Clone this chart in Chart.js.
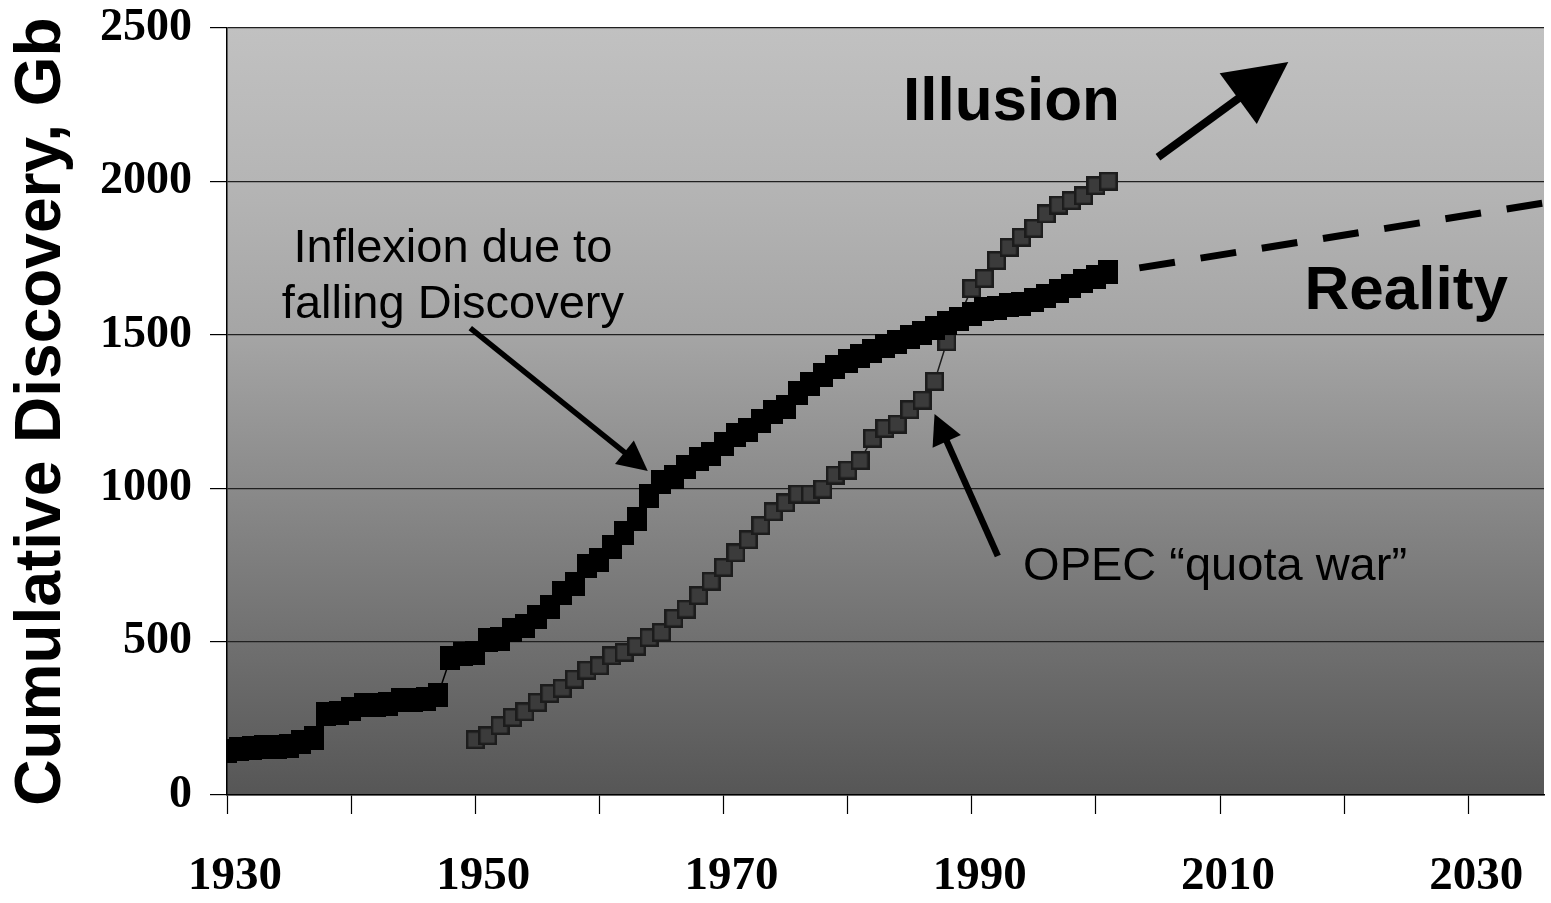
<!DOCTYPE html>
<html>
<head>
<meta charset="utf-8">
<title>Cumulative Discovery</title>
<script src="https://cdn.jsdelivr.net/npm/chart.js@4.4.1/dist/chart.umd.min.js"></script>
<style>
  html, body { margin: 0; padding: 0; background: #fff; }
  canvas { display: block; }
</style>
</head>
<body>
<canvas id="discoveryChart" width="1551" height="903"></canvas>
<script>
// cumulative discovery, Gb (black = reality)
const realityYears = [
  1930, 1931, 1932, 1933, 1934, 1935, 1936, 1937, 1938, 1939,
  1940, 1941, 1942, 1943, 1944, 1945, 1946, 1947, 1948, 1949,
  1950, 1951, 1952, 1953, 1954, 1955, 1956, 1957, 1958, 1959,
  1960, 1961, 1962, 1963, 1964, 1965, 1966, 1967, 1968, 1969,
  1970, 1971, 1972, 1973, 1974, 1975, 1976, 1977, 1978, 1979,
  1980, 1981, 1982, 1983, 1984, 1985, 1986, 1987, 1988, 1989,
  1990, 1991, 1992, 1993, 1994, 1995, 1996, 1997, 1998, 1999,
  2000, 2001
];
const realityValues = [
  145, 150, 152, 156, 158, 160, 173, 186, 264, 266,
  280, 293, 294, 296, 310, 311, 312, 326, 446, 460,
  462, 505, 507, 538, 551, 580, 613, 658, 688, 746,
  766, 808, 854, 900, 975, 1020, 1037, 1069, 1095, 1111,
  1144, 1173, 1190, 1219, 1248, 1265, 1310, 1340, 1368, 1395,
  1415, 1431, 1447, 1463, 1477, 1493, 1506, 1522, 1538, 1551,
  1568, 1584, 1586, 1597, 1599, 1613, 1626, 1643, 1659, 1675,
  1688, 1705
];

// grey = illusion (reported)
const illusionYears = [
  1950, 1951, 1952, 1953, 1954, 1955, 1956, 1957, 1958, 1959,
  1960, 1961, 1962, 1963, 1964, 1965, 1966, 1967, 1968, 1969,
  1970, 1971, 1972, 1973, 1974, 1975, 1976, 1977, 1978, 1979,
  1980, 1981, 1982, 1983, 1984, 1985, 1986, 1987, 1988, 1989,
  1990, 1991, 1992, 1993, 1994, 1995, 1996, 1997, 1998, 1999,
  2000, 2001
];
const illusionValues = [
  180, 193, 226, 253, 271, 302, 331, 348, 378, 407,
  421, 454, 465, 485, 513, 530, 576, 606, 650, 697,
  742, 789, 832, 878, 923, 952, 981, 981, 997, 1043,
  1059, 1090, 1163, 1195, 1209, 1256, 1287, 1348, 1477, 1560,
  1651, 1684, 1742, 1785, 1818, 1847, 1894, 1923, 1937, 1953,
  1986, 2001
];

// dashed projection
const projectionYears = [2003.5, 2036.6];
const projectionValues = [1718, 1933];

const xTickLabels = ['1930', '1950', '1970', '1990', '2010', '2030'];
const yTickValues = [0, 500, 1000, 1500, 2000, 2500];

// text notes and arrows, placed in data units
const notes = [
  { text: 'Illusion', x: 1993.2, y: 2200, font: 'bold 62px "Liberation Sans", Arial, sans-serif' },
  { text: 'Reality', x: 2025.0, y: 1584, font: 'bold 62px "Liberation Sans", Arial, sans-serif' },
  { text: 'Inflexion due to', x: 1948.2, y: 1737, font: '47px "Liberation Sans", Arial, sans-serif' },
  { text: 'falling Discovery', x: 1948.2, y: 1555, font: '47px "Liberation Sans", Arial, sans-serif' },
  { text: 'OPEC \u201cquota war\u201d', x: 2009.6, y: 701, font: '47px "Liberation Sans", Arial, sans-serif' }
];
const arrows = [
  { from: [1949.6, 1522], to: [1963.9, 1056], width: 5.5, head: 30, headWidth: 30 },
  { from: [1992.1, 779], to: [1987.0, 1242], width: 6.5, head: 30, headWidth: 31 },
  { from: [2005.0, 2079], to: [2015.5, 2389], width: 8, head: 62, headWidth: 63 }
];

function makeMarker(w, h, fill, stroke, lw) {
  const c = document.createElement('canvas');
  c.width = w;
  c.height = h;
  const g = c.getContext('2d');
  g.fillStyle = fill;
  g.fillRect(0, 0, w, h);
  if (stroke) {
    g.strokeStyle = stroke;
    g.lineWidth = lw;
    g.strokeRect(lw / 2, lw / 2, w - lw, h - lw);
  }
  return c;
}
const blackMarker = makeMarker(20, 24, '#000000');
const greyMarker = makeMarker(19, 19, '#3b3b3b', '#1c1c1c', 2.5);

function drawArrow(ctx, x1, y1, x2, y2, w, hl, hw) {
  const a = Math.atan2(y2 - y1, x2 - x1);
  const bx = x2 - hl * Math.cos(a);
  const by = y2 - hl * Math.sin(a);
  ctx.save();
  ctx.strokeStyle = '#000';
  ctx.lineWidth = w;
  ctx.beginPath();
  ctx.moveTo(x1, y1);
  ctx.lineTo(bx + Math.cos(a), by + Math.sin(a));
  ctx.stroke();
  ctx.fillStyle = '#000';
  ctx.beginPath();
  ctx.moveTo(x2, y2);
  ctx.lineTo(bx + hw / 2 * Math.sin(a), by - hw / 2 * Math.cos(a));
  ctx.lineTo(bx - hw / 2 * Math.sin(a), by + hw / 2 * Math.cos(a));
  ctx.closePath();
  ctx.fill();
  ctx.restore();
}

// scale label overhang would push the plot area in; fixed box sizes instead
function fixBox(scale, prop, size) {
  scale[prop] = size;
  scale.paddingTop = 0;
  scale.paddingBottom = 0;
  scale.paddingLeft = 0;
  scale.paddingRight = 0;
}

const backdrop = {
  id: 'backdrop',
  beforeDraw(chart) {
    const { ctx, chartArea: a } = chart;
    ctx.save();
    ctx.fillStyle = '#ffffff';
    ctx.fillRect(0, 0, chart.width, chart.height);
    const g = ctx.createLinearGradient(0, a.top, 0, a.bottom);
    g.addColorStop(0, 'rgb(193,193,193)');
    g.addColorStop(0.2, 'rgb(181,181,181)');
    g.addColorStop(0.4, 'rgb(165,165,165)');
    g.addColorStop(0.6, 'rgb(138,138,138)');
    g.addColorStop(0.8, 'rgb(112,112,112)');
    g.addColorStop(1, 'rgb(86,86,86)');
    ctx.fillStyle = g;
    ctx.fillRect(a.left, a.top, a.right - a.left, a.bottom - a.top);
    ctx.restore();
  }
};

const annotations = {
  id: 'annotations',
  afterDatasetsDraw(chart) {
    const { ctx } = chart;
    const xs = chart.scales.x;
    const ys = chart.scales.y;
    ctx.save();
    ctx.fillStyle = '#000';
    ctx.textAlign = 'center';
    ctx.textBaseline = 'alphabetic';
    notes.forEach(n => {
      ctx.font = n.font;
      ctx.fillText(n.text, xs.getPixelForValue(n.x), ys.getPixelForValue(n.y));
    });
    ctx.restore();
    arrows.forEach(r => {
      drawArrow(ctx,
        xs.getPixelForValue(r.from[0]), ys.getPixelForValue(r.from[1]),
        xs.getPixelForValue(r.to[0]), ys.getPixelForValue(r.to[1]),
        r.width, r.head, r.headWidth);
    });
  }
};

const ctx = document.getElementById('discoveryChart').getContext('2d');

const discoveryChart = new Chart(ctx, {
  type: 'line',
  data: {
    datasets: [
      {
        label: 'Reality',
        data: realityYears.map((x, i) => ({ x: x, y: realityValues[i] })),
        borderColor: '#000000',
        borderWidth: 1.5,
        pointStyle: blackMarker,
        pointRadius: 10,
        tension: 0
      },
      {
        label: 'Illusion',
        data: illusionYears.map((x, i) => ({ x: x, y: illusionValues[i] })),
        borderColor: '#1c1c1c',
        borderWidth: 1.5,
        pointStyle: greyMarker,
        pointRadius: 10,
        tension: 0
      },
      {
        label: 'Projection',
        data: projectionYears.map((x, i) => ({ x: x, y: projectionValues[i] })),
        borderColor: '#000000',
        borderWidth: 7,
        borderDash: [36, 26],
        pointRadius: 0,
        clip: false
      }
    ]
  },
  options: {
    responsive: false,
    devicePixelRatio: 1,
    animation: false,
    events: [],
    layout: { autoPadding: false, padding: { top: 28, right: 7, left: 0, bottom: 0 } },
    plugins: {
      legend: { display: false },
      tooltip: { enabled: false }
    },
    scales: {
      x: {
        type: 'linear',
        min: 1930,
        max: 2036.1,
        afterFit: (scale) => fixBox(scale, 'height', 108),
        border: { color: '#000', width: 1.5 },
        grid: {
          drawOnChartArea: false,
          drawTicks: true,
          tickLength: 19,
          tickColor: '#000',
          tickWidth: 1.2
        },
        ticks: {
          stepSize: 10,
          includeBounds: false,
          autoSkip: false,
          maxRotation: 0,
          padding: 35,
          labelOffset: 8,
          color: '#000',
          font: { family: '"Liberation Serif", "Times New Roman", serif', size: 47, weight: 'bold' },
          callback: (v) => {
            const s = String(Math.round(v));
            return xTickLabels.includes(s) ? s : '';
          }
        }
      },
      y: {
        min: 0,
        max: 2500,
        afterFit: (scale) => fixBox(scale, 'width', 227),
        border: { color: '#000', width: 1.5 },
        grid: {
          color: '#202020',
          lineWidth: 1.2,
          drawTicks: true,
          tickLength: 17,
          tickColor: '#000'
        },
        ticks: {
          stepSize: 500,
          padding: 18,
          color: '#000',
          font: { family: '"Liberation Serif", "Times New Roman", serif', size: 46, weight: 'bold' },
          callback: (v) => yTickValues.includes(v) ? String(v) : ''
        },
        title: {
          display: true,
          text: 'Cumulative Discovery, Gb',
          color: '#000',
          padding: { top: 4, bottom: 0 },
          font: { family: '"Liberation Sans", Arial, sans-serif', size: 64, weight: 'bold' }
        }
      }
    }
  },
  plugins: [backdrop, annotations]
});
</script>
</body>
</html>
